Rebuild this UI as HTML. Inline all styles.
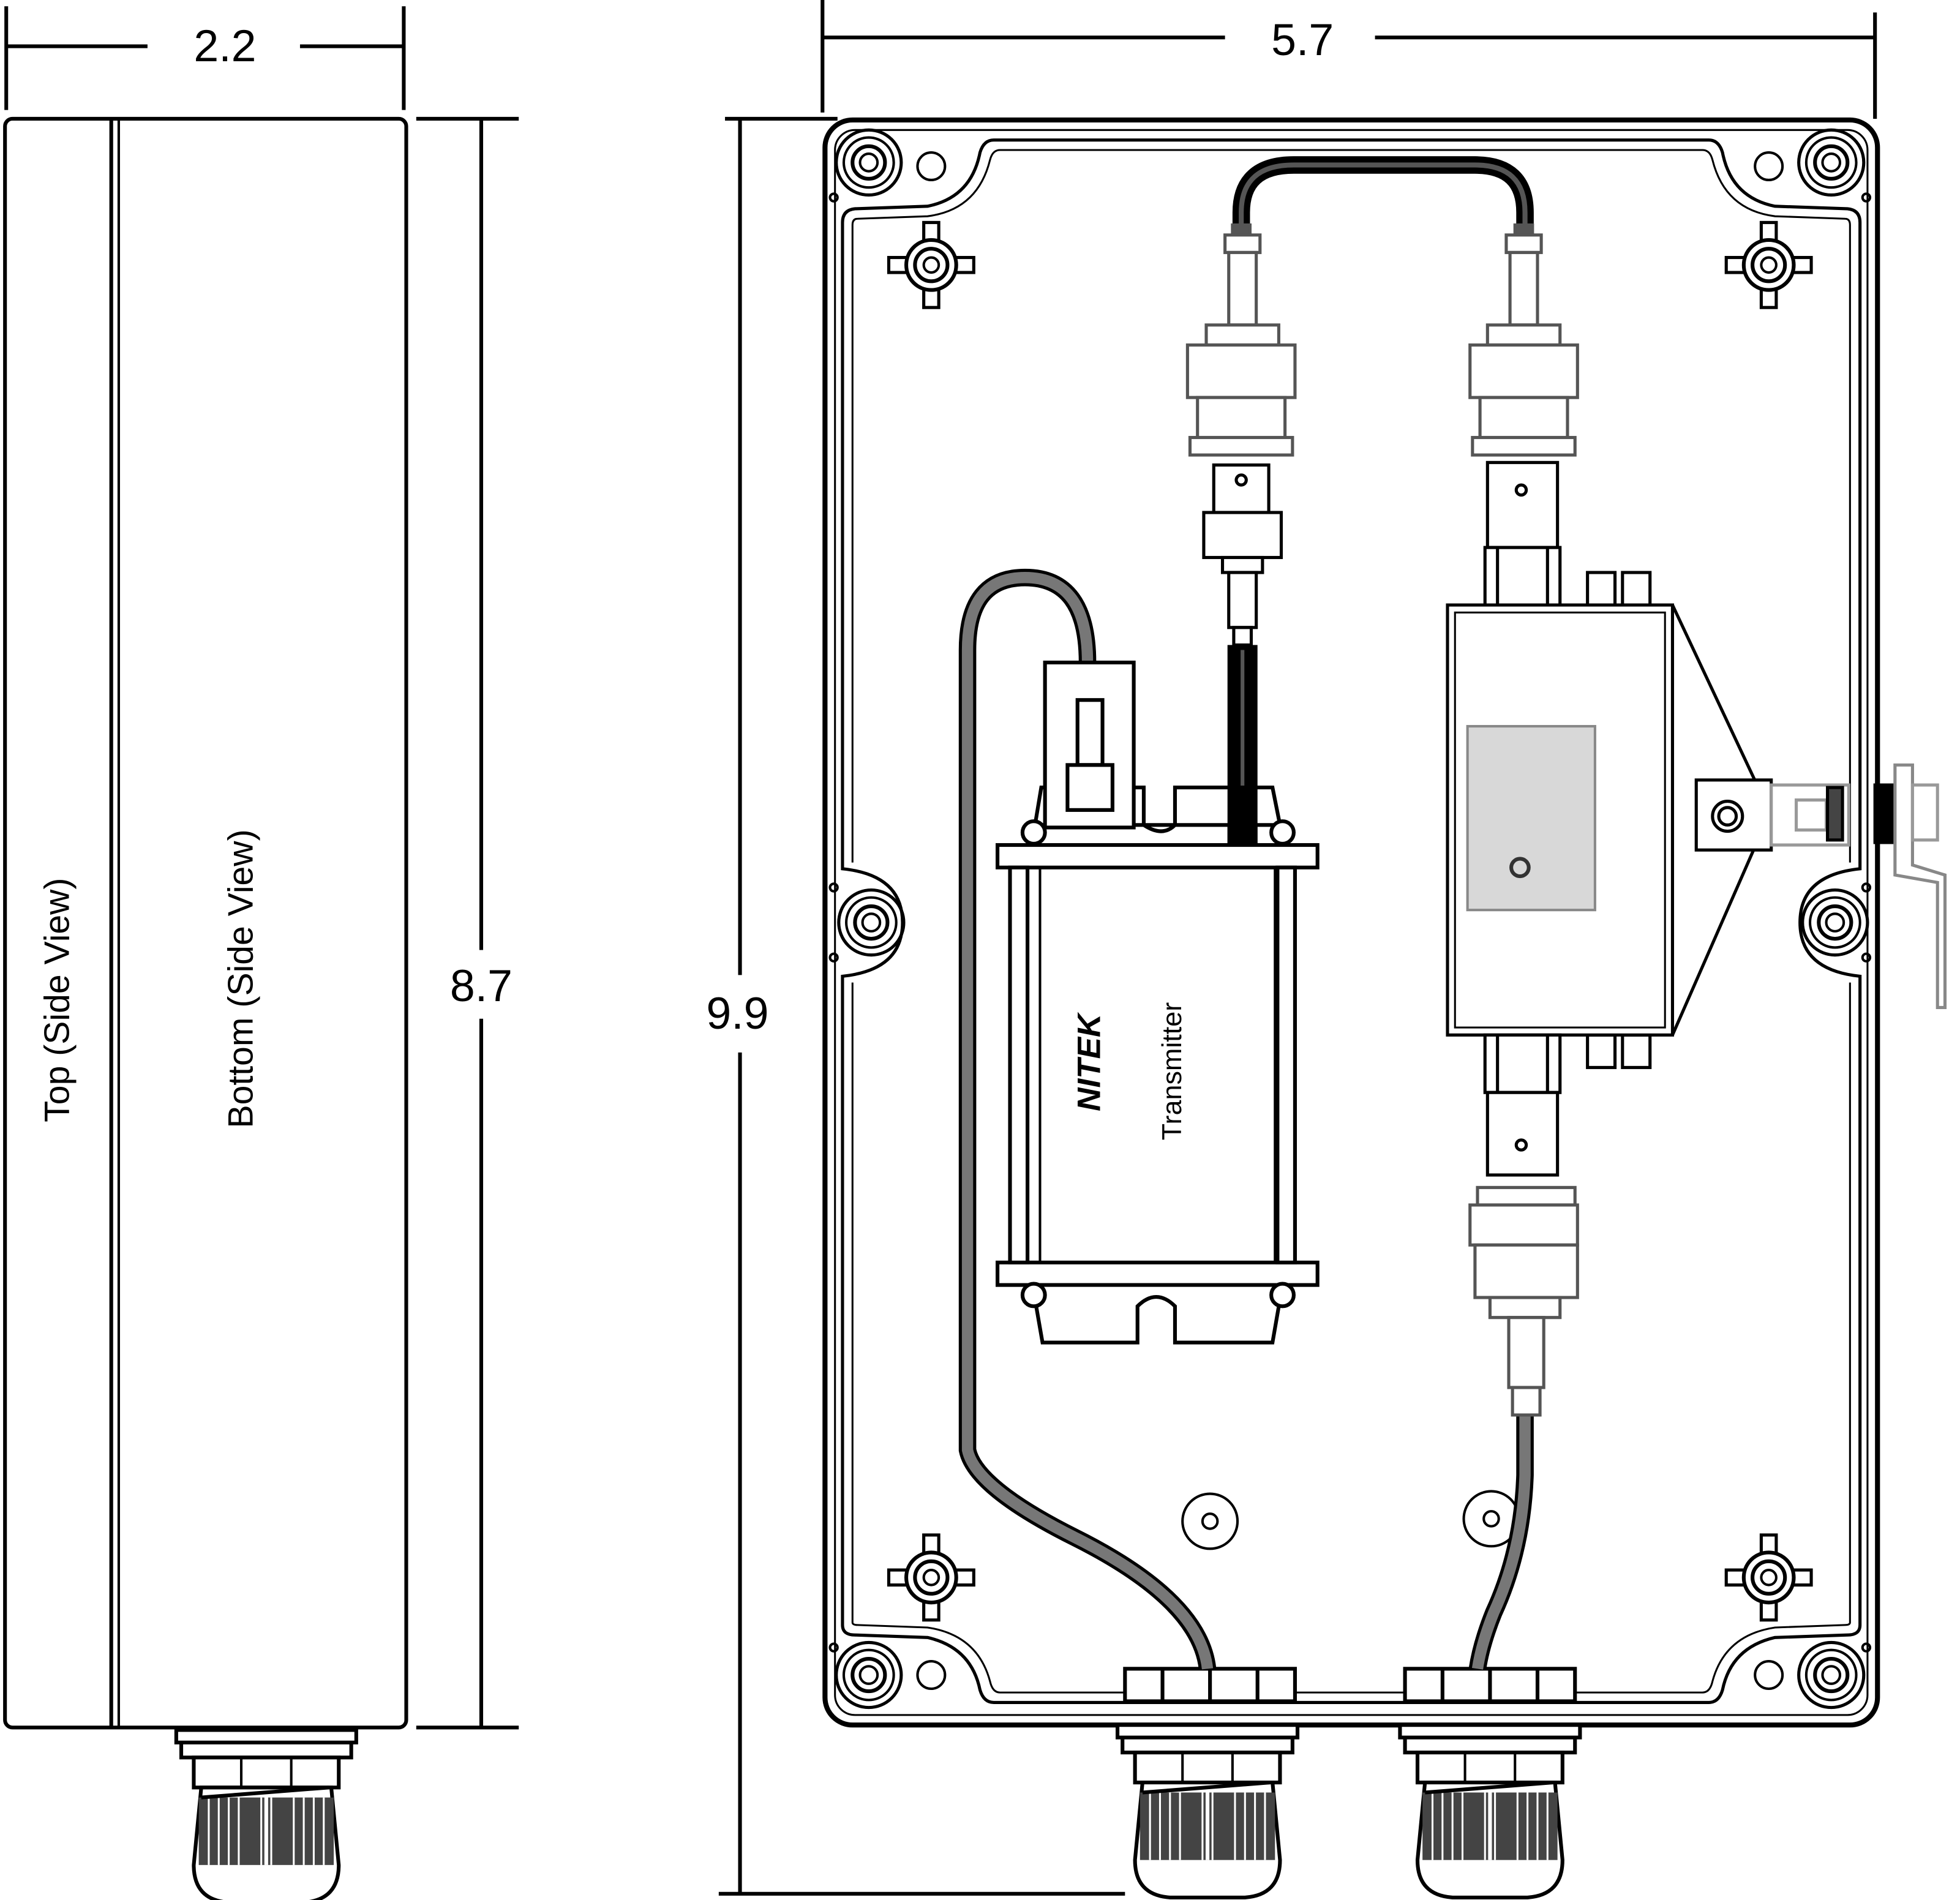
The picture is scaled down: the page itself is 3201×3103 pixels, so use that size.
<!DOCTYPE html>
<html><head><meta charset="utf-8"><style>
html,body{margin:0;padding:0;background:#fff}
svg{display:block}
text{font-family:"Liberation Sans",sans-serif}
</style></head><body>
<svg width="3201" height="3103" viewBox="0 0 1568 1520" xmlns="http://www.w3.org/2000/svg">
<defs>
<g id="screw"><circle r="26" fill="none" stroke="#000" stroke-width="2.5"/><circle r="20" fill="none" stroke="#000" stroke-width="2"/><circle r="13" fill="none" stroke="#000" stroke-width="3"/><circle r="7" fill="none" stroke="#000" stroke-width="2"/></g>
<g id="boss"><rect x="-34" y="-6" width="68" height="12" fill="#fff" stroke="#000" stroke-width="2.5"/><rect x="-6" y="-34" width="12" height="68" fill="#fff" stroke="#000" stroke-width="2.5"/><circle r="20" fill="#fff" stroke="#000" stroke-width="3"/><circle r="13" fill="none" stroke="#000" stroke-width="3"/><circle r="6" fill="none" stroke="#000" stroke-width="2"/></g>
<g id="gland">
<rect x="-68" y="0" width="136" height="14" fill="#fff" stroke="#000" stroke-width="3"/>
<rect x="-72" y="-8" width="144" height="10" fill="#fff" stroke="#000" stroke-width="3"/>
<rect x="-58" y="14" width="116" height="24" fill="#fff" stroke="#000" stroke-width="3"/>
<line x1="-20" y1="14" x2="-20" y2="38" stroke="#000" stroke-width="2"/><line x1="20" y1="14" x2="20" y2="38" stroke="#000" stroke-width="2"/>
<path d="M-52 38 L52 38 L58 100 Q58 128 30 130 L-30 130 Q-58 128 -58 100 Z" fill="#fff" stroke="#000" stroke-width="3"/>
<rect x="-54" y="46" width="108" height="54" fill="#444"/>
<g stroke="#fff" stroke-width="1.5"><line x1="-46" y1="46" x2="-46" y2="100"/><line x1="-38" y1="46" x2="-38" y2="100"/><line x1="-30" y1="46" x2="-30" y2="100"/><line x1="-22" y1="46" x2="-22" y2="100"/><line x1="-4" y1="46" x2="-4" y2="100"/><line x1="4" y1="46" x2="4" y2="100"/><line x1="22" y1="46" x2="22" y2="100"/><line x1="30" y1="46" x2="30" y2="100"/><line x1="38" y1="46" x2="38" y2="100"/><line x1="46" y1="46" x2="46" y2="100"/></g>
<line x1="0" y1="40" x2="0" y2="100" stroke="#fff" stroke-width="3"/>
<path d="M-52 46 L50 38" stroke="#000" stroke-width="3"/>
</g>
</defs>

<g stroke="#000" stroke-width="3" fill="none">
<line x1="5" y1="5" x2="5" y2="88"/><line x1="323" y1="5" x2="323" y2="88"/>
<line x1="5" y1="37" x2="118" y2="37"/><line x1="240" y1="37" x2="323" y2="37"/>
<line x1="333" y1="95" x2="415" y2="95"/><line x1="333" y1="1382" x2="415" y2="1382"/>
<line x1="385" y1="95" x2="385" y2="760"/><line x1="385" y1="815" x2="385" y2="1382"/>
</g>
<text x="180" y="49" font-size="36" text-anchor="middle">2.2</text>
<text x="385" y="801" font-size="36" text-anchor="middle">8.7</text>

<rect x="4" y="95" width="321" height="1287" rx="6" fill="#fff" stroke="#000" stroke-width="3"/>
<line x1="89" y1="96" x2="89" y2="1381" stroke="#000" stroke-width="3"/>
<line x1="95" y1="96" x2="95" y2="1381" stroke="#000" stroke-width="2"/>
<text transform="translate(55,800) rotate(-90)" font-size="28" text-anchor="middle">Top (Side View)</text>
<text transform="translate(202,783) rotate(-90)" font-size="28" text-anchor="middle">Bottom (Side View)</text>
<use href="#gland" x="213" y="1392"/>

<g stroke="#000" stroke-width="3" fill="none">
<line x1="658" y1="0" x2="658" y2="90"/><line x1="1500" y1="10" x2="1500" y2="95"/>
<line x1="658" y1="30" x2="980" y2="30"/><line x1="1100" y1="30" x2="1500" y2="30"/>
<line x1="580" y1="95" x2="670" y2="95"/><line x1="575" y1="1515" x2="900" y2="1515"/>
<line x1="592" y1="95" x2="592" y2="780"/><line x1="592" y1="842" x2="592" y2="1515"/>
</g>
<text x="1042" y="44" font-size="36" text-anchor="middle">5.7</text>
<text x="590" y="823" font-size="36" text-anchor="middle">9.9</text>

<rect x="660" y="96" width="842" height="1284" rx="22" fill="#fff" stroke="#000" stroke-width="4"/>
<rect x="668" y="104" width="826" height="1268" rx="16" fill="none" stroke="#000" stroke-width="1.5"/>
<path d="M795 112 L1367 112 Q1375 112 1378 122 Q1385 158 1420 165 L1478 167 Q1488 168 1488 178 L1488 695 Q1440 700 1440 738 Q1440 776 1488 781 L1488 1300 Q1488 1308 1478 1308 L1420 1310 Q1385 1318 1378 1352 Q1375 1362 1367 1362 L795 1362 Q787 1362 784 1352 Q777 1318 742 1310 L684 1308 Q674 1308 674 1300 L674 781 Q722 776 722 738 Q722 700 674 695 L674 178 Q674 168 684 167 L742 165 Q777 158 784 122 Q787 112 795 112 Z" fill="none" stroke="#000" stroke-width="2.5"/>
<path d="M800 120 L1362 120 Q1368 120 1370 128 Q1380 168 1420 173 L1476 175 Q1480 175 1480 180 L1480 690 M1480 786 L1480 1298 Q1480 1300 1476 1300 L1420 1302 Q1380 1308 1370 1345 Q1368 1354 1362 1354 L800 1354 Q794 1354 792 1345 Q782 1308 742 1302 L686 1300 Q682 1300 682 1298 L682 786 M682 690 L682 180 Q682 175 686 175 L742 173 Q782 168 792 128 Q794 120 800 120" fill="none" stroke="#000" stroke-width="1.5"/>
<use href="#screw" x="695" y="130"/><use href="#screw" x="1465" y="130"/>
<use href="#screw" x="695" y="1340"/><use href="#screw" x="1465" y="1340"/>
<use href="#screw" x="697" y="738"/><use href="#screw" x="1468" y="738"/>
<g fill="none" stroke="#000" stroke-width="2"><circle cx="745" cy="133" r="11"/><circle cx="1415" cy="133" r="11"/><circle cx="745" cy="1340" r="11"/><circle cx="1415" cy="1340" r="11"/>
<circle cx="667" cy="158" r="3"/><circle cx="1493" cy="158" r="3"/><circle cx="667" cy="1318" r="3"/><circle cx="1493" cy="1318" r="3"/>
<circle cx="667" cy="710" r="3"/><circle cx="667" cy="766" r="3"/><circle cx="1493" cy="710" r="3"/><circle cx="1493" cy="766" r="3"/>
<circle cx="968" cy="1217" r="22"/><circle cx="968" cy="1217" r="6"/><circle cx="1193" cy="1215" r="22"/><circle cx="1193" cy="1215" r="6"/></g>
<use href="#boss" x="745" y="212"/><use href="#boss" x="1415" y="212"/>
<use href="#boss" x="745" y="1262"/><use href="#boss" x="1415" y="1262"/>

<g fill="#fff" stroke="#000" stroke-width="3">
<rect x="900" y="1335" width="136" height="26"/><line x1="930" y1="1335" x2="930" y2="1361"/><line x1="968" y1="1335" x2="968" y2="1361"/><line x1="1006" y1="1335" x2="1006" y2="1361"/>
<rect x="1124" y="1335" width="136" height="26"/><line x1="1154" y1="1335" x2="1154" y2="1361"/><line x1="1192" y1="1335" x2="1192" y2="1361"/><line x1="1230" y1="1335" x2="1230" y2="1361"/>
</g>
<use href="#gland" x="966" y="1388"/>
<use href="#gland" x="1192" y="1388"/>

<path d="M993 188 L993 170 Q993 132 1035 132 L1180 132 Q1220 132 1220 170 L1220 190" fill="none" stroke="#000" stroke-width="14"/>
<path d="M993 188 L993 170 Q993 132 1035 132 L1180 132 Q1220 132 1220 170 L1220 190" fill="none" stroke="#555" stroke-width="4"/>

<g fill="#fff" stroke="#555" stroke-width="2.5">
<rect x="986" y="180" width="14" height="8" fill="#555"/>
<rect x="980" y="188" width="28" height="14"/><rect x="983" y="202" width="22" height="58"/>
<rect x="965" y="260" width="58" height="16"/><rect x="950" y="276" width="86" height="42"/>
<rect x="958" y="318" width="70" height="32"/><rect x="952" y="350" width="82" height="14"/>
</g>
<g fill="#fff" stroke="#000" stroke-width="2.5">
<rect x="971" y="372" width="44" height="38"/><circle cx="993" cy="384" r="4"/>
<rect x="963" y="410" width="62" height="36"/><rect x="978" y="446" width="32" height="12"/>
<rect x="983" y="458" width="22" height="44"/><rect x="987" y="502" width="14" height="14"/>
</g>
<rect x="982" y="516" width="24" height="160" fill="#000"/>
<line x1="994" y1="520" x2="994" y2="672" stroke="#555" stroke-width="3"/>

<g fill="#fff" stroke="#555" stroke-width="2.5">
<rect x="1212" y="180" width="14" height="8" fill="#555"/>
<rect x="1205" y="188" width="28" height="14"/><rect x="1208" y="202" width="22" height="58"/>
<rect x="1190" y="260" width="58" height="16"/><rect x="1176" y="276" width="86" height="42"/>
<rect x="1184" y="318" width="70" height="32"/><rect x="1178" y="350" width="82" height="14"/>
</g>
<g fill="#fff" stroke="#000" stroke-width="2.5">
<rect x="1190" y="370" width="56" height="68"/><circle cx="1217" cy="392" r="4"/>
<rect x="1188" y="438" width="60" height="48"/><line x1="1198" y1="438" x2="1198" y2="486"/><line x1="1238" y1="438" x2="1238" y2="486"/>
</g>

<path d="M870 530 Q870 462 820 462 Q774 462 774 520 L774 1160 Q780 1190 860 1230 Q960 1280 966 1335" fill="none" stroke="#000" stroke-width="14"/>
<path d="M870 530 Q870 462 820 462 Q774 462 774 520 L774 1160 Q780 1190 860 1230 Q960 1280 966 1335" fill="none" stroke="#777" stroke-width="9"/>
<path d="M1220 1130 L1220 1180 Q1218 1240 1195 1290 Q1185 1315 1182 1335" fill="none" stroke="#000" stroke-width="14"/>
<path d="M1220 1130 L1220 1180 Q1218 1240 1195 1290 Q1185 1315 1182 1335" fill="none" stroke="#777" stroke-width="9"/>

<g fill="#fff" stroke="#000" stroke-width="3">
<path d="M828 660 L833 630 L915 630 L915 660 Q930 670 940 660 L940 630 L1018 630 L1024 660 Z"/>
<rect x="836" y="530" width="71" height="132"/>
<rect x="862" y="560" width="20" height="52"/><rect x="854" y="612" width="36" height="36"/>
<rect x="820" y="676" width="214" height="340" rx="3"/>
<rect x="798" y="676" width="256" height="18"/>
<rect x="798" y="1010" width="256" height="18"/>
<rect x="808" y="694" width="14" height="316"/><rect x="1022" y="694" width="14" height="316"/>
<rect x="832" y="694" width="188" height="316" fill="none" stroke-width="2"/>
<path d="M826 1028 L834 1074 L910 1074 L910 1045 Q925 1030 940 1045 L940 1074 L1018 1074 L1026 1028 Z"/>
<circle cx="827" cy="666" r="9"/><circle cx="1026" cy="666" r="9"/>
<circle cx="827" cy="1036" r="9"/><circle cx="1026" cy="1036" r="9"/>
</g>
<rect x="982" y="630" width="24" height="46" fill="#000"/>
<text transform="translate(880,850) rotate(-90)" font-size="26" font-weight="bold" font-style="italic" text-anchor="middle">NITEK</text>
<text transform="translate(945,857) rotate(-90)" font-size="22" text-anchor="middle">Transmitter</text>

<g fill="#fff" stroke="#000" stroke-width="2.5">
<rect x="1270" y="458" width="22" height="26"/><rect x="1298" y="458" width="22" height="26"/>
<rect x="1270" y="828" width="22" height="26"/><rect x="1298" y="828" width="22" height="26"/>
<rect x="1158" y="484" width="180" height="344"/>
<rect x="1164" y="490" width="168" height="332" fill="none" stroke-width="1.5"/>
<path d="M1338 484 L1416 650 L1338 828" fill="none"/>
<rect x="1357" y="624" width="60" height="56"/><circle cx="1382" cy="653" r="12"/><circle cx="1382" cy="653" r="7"/>
<rect x="1417" y="628" width="62" height="48" stroke="#999"/>
<rect x="1437" y="640" width="24" height="24" stroke="#999"/>
<rect x="1462" y="630" width="12" height="42" fill="#444" stroke="#000"/>
<rect x="1500" y="628" width="14" height="46" fill="#000"/>
<path d="M1516 612 L1530 612 L1530 692 L1556 700 L1556 806 L1550 806 L1550 706 L1516 700 Z" fill="#fff" stroke="#888"/>
<rect x="1530" y="628" width="20" height="44" stroke="#999"/>
<rect x="1188" y="828" width="60" height="46"/><line x1="1198" y1="828" x2="1198" y2="874"/><line x1="1238" y1="828" x2="1238" y2="874"/>
<rect x="1190" y="874" width="56" height="66"/><circle cx="1217" cy="916" r="4"/>
</g>
<rect x="1174" y="581" width="102" height="147" fill="#d8d8d8" stroke="#888" stroke-width="2"/>
<circle cx="1216" cy="694" r="7" fill="none" stroke="#333" stroke-width="3"/>
<g fill="#fff" stroke="#555" stroke-width="2.5">
<rect x="1182" y="950" width="78" height="14"/><rect x="1176" y="964" width="86" height="32"/>
<rect x="1180" y="996" width="82" height="42"/><rect x="1192" y="1038" width="56" height="16"/>
<rect x="1207" y="1054" width="28" height="56"/><rect x="1210" y="1110" width="22" height="22"/>
</g>
</svg>
</body></html>
